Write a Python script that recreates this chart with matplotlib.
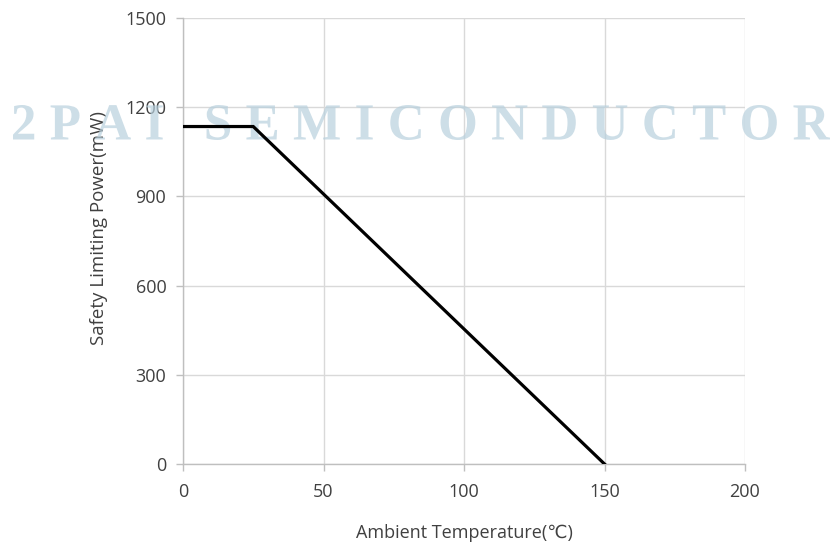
import matplotlib
matplotlib.use('Agg')
import matplotlib.pyplot as plt
from matplotlib.textpath import TextPath, text_to_path
from matplotlib.font_manager import FontProperties
from matplotlib.patches import PathPatch
from matplotlib.path import Path
from matplotlib.transforms import Affine2D, IdentityTransform

# derating curve
temp = [0, 25, 150]
power = [1135, 1135, 0]

xticks = [0, 50, 100, 150, 200]
yticks = [0, 300, 600, 900, 1200, 1500]

wm_text = '2PAI SEMICONDUCTOR'

plt.rcParams['font.family'] = ['Open Sans', 'DejaVu Sans']

W, H = 831, 544
fig = plt.figure(figsize=(W / 100, H / 100), dpi=100)
ax = fig.add_axes([183 / W, 1 - 464 / H, (745 - 183) / W, (464 - 18) / H])

ax.plot(temp, power, color='black', lw=2.3, zorder=3, solid_joinstyle='miter')

ax.set_xlim(0, 200)
ax.set_ylim(0, 1500)
ax.set_xticks(xticks)
ax.set_yticks(yticks)
ax.grid(True, color='#d9d9d9', lw=1.0)
ax.set_axisbelow(True)

for s in ['top', 'right']:
    ax.spines[s].set_visible(False)
for s in ['left', 'bottom']:
    ax.spines[s].set_color('#bfbfbf')
    ax.spines[s].set_linewidth(1.0)

ax.tick_params(axis='both', colors='#bfbfbf', labelcolor='#404040',
               labelsize=13, length=5, width=1.0)
ax.tick_params(axis='y', pad=7)
ax.tick_params(axis='x', pad=9)

ax.set_xlabel('Ambient Temperature(℃)', fontsize=13, color='#404040', labelpad=16)
ax.set_ylabel('Safety Limiting Power(mW)', fontsize=13.5, color='#404040')
ax.yaxis.set_label_coords(-0.133, 0.53)

# watermark: letters with extra spacing, stretched to span the figure width
fp = FontProperties(family='Liberation Serif', weight='bold', size=100)
glyphs = []
xpos = 0
for ch in wm_text:
    if ch != ' ':
        glyphs.append(TextPath((xpos, 0), ch, prop=fp))
    w, _, _ = text_to_path.get_text_width_height_descent(ch, fp, ismath=False)
    xpos += w + 26
tp = Path.make_compound_path(*glyphs)
ext = tp.get_extents()
x0, x1, top, bot = 13, 830, 105, 140
sx = (x1 - x0) / ext.width
sy = (bot - top) / ext.height
tr = Affine2D().translate(-ext.x0, -ext.y0).scale(sx, sy).translate(x0, H - bot)
wm = PathPatch(tr.transform_path(tp), fc=(184 / 255, 208 / 255, 221 / 255), alpha=0.7,
               ec='none', transform=IdentityTransform(), zorder=1.5, clip_on=False)
ax.add_artist(wm)

fig.savefig('out.png', dpi=100)
